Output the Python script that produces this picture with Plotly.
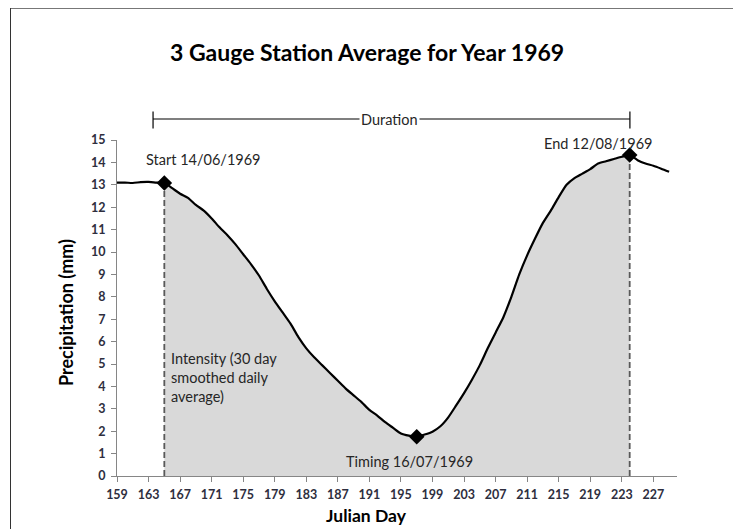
import plotly.graph_objects as go

# ---- data ----
days = list(range(159, 230))
precip = [13.10, 13.10, 13.08, 13.12, 13.13, 13.10, 13.08,          # 159-165
          12.85, 12.60, 12.42, 12.10, 11.85, 11.50, 11.10, 10.75,   # 166-173
          10.35, 9.90, 9.45, 8.95, 8.35, 7.80, 7.30, 6.80,          # 174-181
          6.20, 5.70, 5.30, 4.95, 4.60, 4.25, 3.90, 3.60,           # 182-189
          3.30, 2.95, 2.70, 2.40, 2.15, 1.90, 1.80, 1.75,           # 190-197
          1.85, 1.98, 2.22, 2.62, 3.15, 3.70, 4.30, 4.95,           # 198-205
          5.70, 6.40, 7.10, 8.00, 9.00, 9.85, 10.60, 11.30,         # 206-213
          11.85, 12.45, 13.00, 13.30, 13.50, 13.70, 13.95, 14.05,   # 214-221
          14.15, 14.25, 14.33, 14.10, 13.95, 13.85, 13.72, 13.58]   # 222-229
start_day, timing_day, end_day = 165, 197, 224
x_ticks = list(range(159, 228, 4))
y_ticks = list(range(0, 16))
title_text = "3 Gauge Station Average for Year 1969"
start_label = "Start 14/06/1969"
end_label = "End 12/08/1969"
timing_label = "Timing 16/07/1969"
intensity_label = "Intensity (30 day<br>smoothed daily<br>average)"

# ---- layout geometry ----
# the page body adds an 8px offset, so the figure is drawn 8px smaller
OFF = 8
W, H = 741 - OFF, 529 - OFF
PL, PR, PT, PB = 117, 677, 140, 476          # plot area in page pixels
L, T = PL - OFF, PT - OFF
R, B = W - (PR - OFF), H - (PB - OFF)

def px(xp):   # page pixel -> paper x
    return (xp - PL) / (PR - PL)

def py(yp):   # page pixel -> paper y
    return (PB - yp) / (PB - PT)

val = dict(zip(days, precip))
fill_days = [d for d in days if start_day <= d <= end_day]
fill_vals = [val[d] for d in fill_days]

FONT = "Lato, 'Open Sans', Arial, sans-serif"
fig = go.Figure()

fig.add_trace(go.Scatter(x=fill_days, y=fill_vals, mode="lines", fill="tozeroy",
                         fillcolor="#d9d9d9", line=dict(width=0, shape="spline", smoothing=0.6),
                         hoverinfo="skip", showlegend=False))
for d in (start_day, end_day):
    fig.add_trace(go.Scatter(x=[d, d], y=[0, val[d]], mode="lines",
                             line=dict(color="#595959", width=1.8, dash="6px,3px"),
                             showlegend=False, hoverinfo="skip"))
fig.add_trace(go.Scatter(x=days, y=precip, mode="lines",
                         line=dict(color="black", width=2.2, shape="spline", smoothing=0.6),
                         showlegend=False))
mk = [start_day, timing_day, end_day]
fig.add_trace(go.Scatter(x=mk, y=[val[d] for d in mk], mode="markers",
                         marker=dict(symbol="diamond", size=12, color="black"),
                         showlegend=False))

axis_common = dict(showgrid=False, zeroline=False, showline=True, linecolor="#868686",
                   linewidth=1, ticks="outside", ticklen=5, tickcolor="#868686",
                   tickfont=dict(family=FONT, size=12.5, color="#2e2e3e", weight="bold"))
fig.update_xaxes(range=[159, 230], tickvals=x_ticks, ticktext=[str(t) for t in x_ticks],
                 ticklabelstandoff=2, **axis_common)
fig.update_yaxes(range=[0, 15], tickvals=y_ticks, ticktext=[str(t) for t in y_ticks],
                 ticklabelstandoff=3, **axis_common)

def A(text, x, y, xref="paper", size=14, color="#262626", bold=False, **kw):
    d = dict(text=text, xref=xref, yref="paper", x=x, y=y, showarrow=False,
             xanchor="center", yanchor="middle",
             font=dict(family=FONT, size=size, color=color,
                       weight="bold" if bold else "normal"))
    d.update(kw)
    return d

ann = [
    A(title_text, px(367), py(52), size=23, color="black", bold=True),
    A("Julian Day", px(366), py(515), size=17.5, color="black", bold=True),
    A("Precipitation (mm)", px(66), py(313), size=18, color="black", bold=True, textangle=-90),
    A(start_label, 170.0, py(159), xref="x", size=14.5),
    A(end_label, 220.0, py(143), xref="x", size=14.5),
    A(timing_label, 196.1, py(461), xref="x", size=14.5),
    A(intensity_label, 165.6, py(348), xref="x", size=14.5, xanchor="left",
      yanchor="top", align="left"),
    A("Duration", 193.6, py(119), xref="x", size=14.5, bgcolor="white", borderpad=1),
]
fig.update_layout(annotations=ann)

shapes = []
# duration bracket
shapes.append(dict(type="line", xref="x", yref="paper", x0=163.57, x1=224.03,
                   y0=py(119), y1=py(119), line=dict(color="black", width=1.2)))
for xd in (163.57, 224.03):
    shapes.append(dict(type="line", xref="x", yref="paper", x0=xd, x1=xd,
                       y0=py(111.5), y1=py(128.5), line=dict(color="black", width=1.2)))
# chart border
shapes.append(dict(type="line", xref="paper", yref="paper", x0=px(10.5), x1=px(745),
                   y0=py(8), y1=py(8), line=dict(color="#777777", width=2)))
shapes.append(dict(type="line", xref="paper", yref="paper", x0=px(10.5), x1=px(10.5),
                   y0=py(7), y1=py(535), line=dict(color="#333333", width=1)))
fig.update_layout(shapes=shapes)

fig.update_layout(width=W, height=H, margin=dict(l=L, r=R, t=T, b=B, autoexpand=False),
                  plot_bgcolor="white", paper_bgcolor="white", showlegend=False)

fig.write_html("out.html")
